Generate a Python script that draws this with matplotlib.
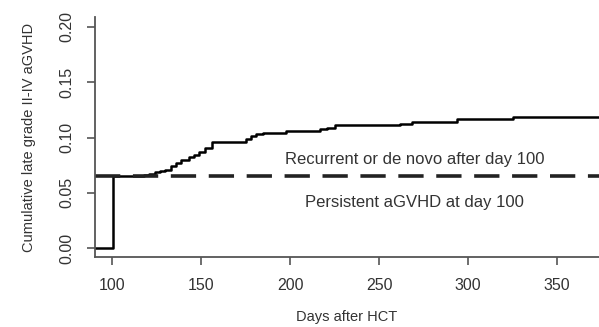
import numpy as np
import matplotlib.pyplot as plt

plt.rcParams['font.family'] = ['Liberation Sans', 'DejaVu Sans']

# step curve of cumulative incidence (days, value)
days = [90, 100.5, 118, 121, 124, 127, 130, 133, 136, 139, 143, 146, 149, 152, 156, 172,
        175, 178, 181, 185, 198, 217, 221, 225, 262, 268.5, 294, 325, 375]
cuminc = [0.0, 0.065, 0.066, 0.067, 0.069, 0.070, 0.071, 0.074, 0.077, 0.080, 0.082, 0.084,
          0.087, 0.091, 0.096, 0.096, 0.099, 0.101, 0.103, 0.1045, 0.106, 0.108, 0.109, 0.111,
          0.112, 0.114, 0.1167, 0.119, 0.119]
persistent = 0.065

xticks = [100, 150, 200, 250, 300, 350]
yticks = [0.00, 0.05, 0.10, 0.15, 0.20]

fig = plt.figure(figsize=(5.99, 3.27), dpi=100)
ax = fig.add_axes([95 / 599, 70 / 327, 504 / 599, 240 / 327])

ax.step(days, cuminc, where='post', color='black', lw=1.8)
ax.axhline(persistent, color='#222222', lw=2.6, dashes=(7, 3.5))

ax.text(270, 0.080, 'Recurrent or de novo after day 100', ha='center', va='center',
        fontsize=12, color='#333333')
ax.text(270, 0.041, 'Persistent aGVHD at day 100', ha='center', va='center',
        fontsize=12, color='#333333')

ax.set_xlim(90.4, 373.6)
ax.set_ylim(-0.008, 0.209)
ax.set_xticks(xticks)
ax.set_xticklabels([str(t) for t in xticks])
ax.set_yticks(yticks)
ax.set_yticklabels(['%.2f' % t for t in yticks], rotation=90, va='center')

for s in ['top', 'right']:
    ax.spines[s].set_visible(False)
for s in ['left', 'bottom']:
    ax.spines[s].set_color('#555555')
    ax.spines[s].set_linewidth(1.3)
ax.tick_params(direction='out', length=6, width=1.2, color='#555555',
               labelcolor='#333333', labelsize=11.5, pad=9)

ax.set_xlabel('Days after HCT', fontsize=10.5, color='#333333', labelpad=12)
ax.set_ylabel('Cumulative late grade II-IV aGVHD', fontsize=10.5, color='#333333', labelpad=17)

fig.savefig('out.png', dpi=100)
